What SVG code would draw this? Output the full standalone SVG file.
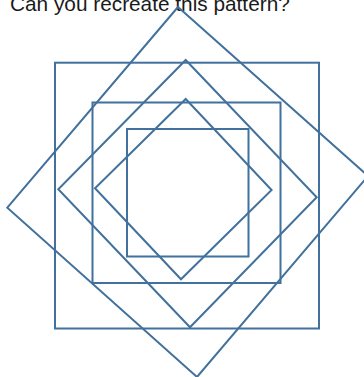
<svg xmlns="http://www.w3.org/2000/svg" width="364" height="377" viewBox="0 0 364 377">
<style>
.s{fill:none;stroke:#41719C;stroke-width:2;stroke-linejoin:miter}
.t{font-family:"Liberation Sans",Arial,sans-serif;font-size:20.8px;fill:#1a1a1a}
</style>
<rect width="364" height="377" fill="#ffffff"/>
<text class="t" x="10" y="11">Can you recreate this pattern?</text>
<g id="outer-square"><rect class="s" x="55" y="62.7" width="264" height="265.8"/></g>
<g id="middle-square"><rect class="s" x="92.5" y="102.5" width="188" height="180.5"/></g>
<g id="inner-square"><rect class="s" x="127" y="129" width="121.5" height="127.5"/></g>
<g id="large-diamond"><polygon class="s" points="178,7 368,176 197,377 7.3,207.7"/></g>
<g id="middle-diamond"><polygon class="s" points="185.7,60 316.7,197.3 190,327.3 58.3,189.3"/></g>
<g id="inner-diamond"><polygon class="s" points="185.7,99 271.6,190 181,279.3 95,188.3"/></g>
</svg>
